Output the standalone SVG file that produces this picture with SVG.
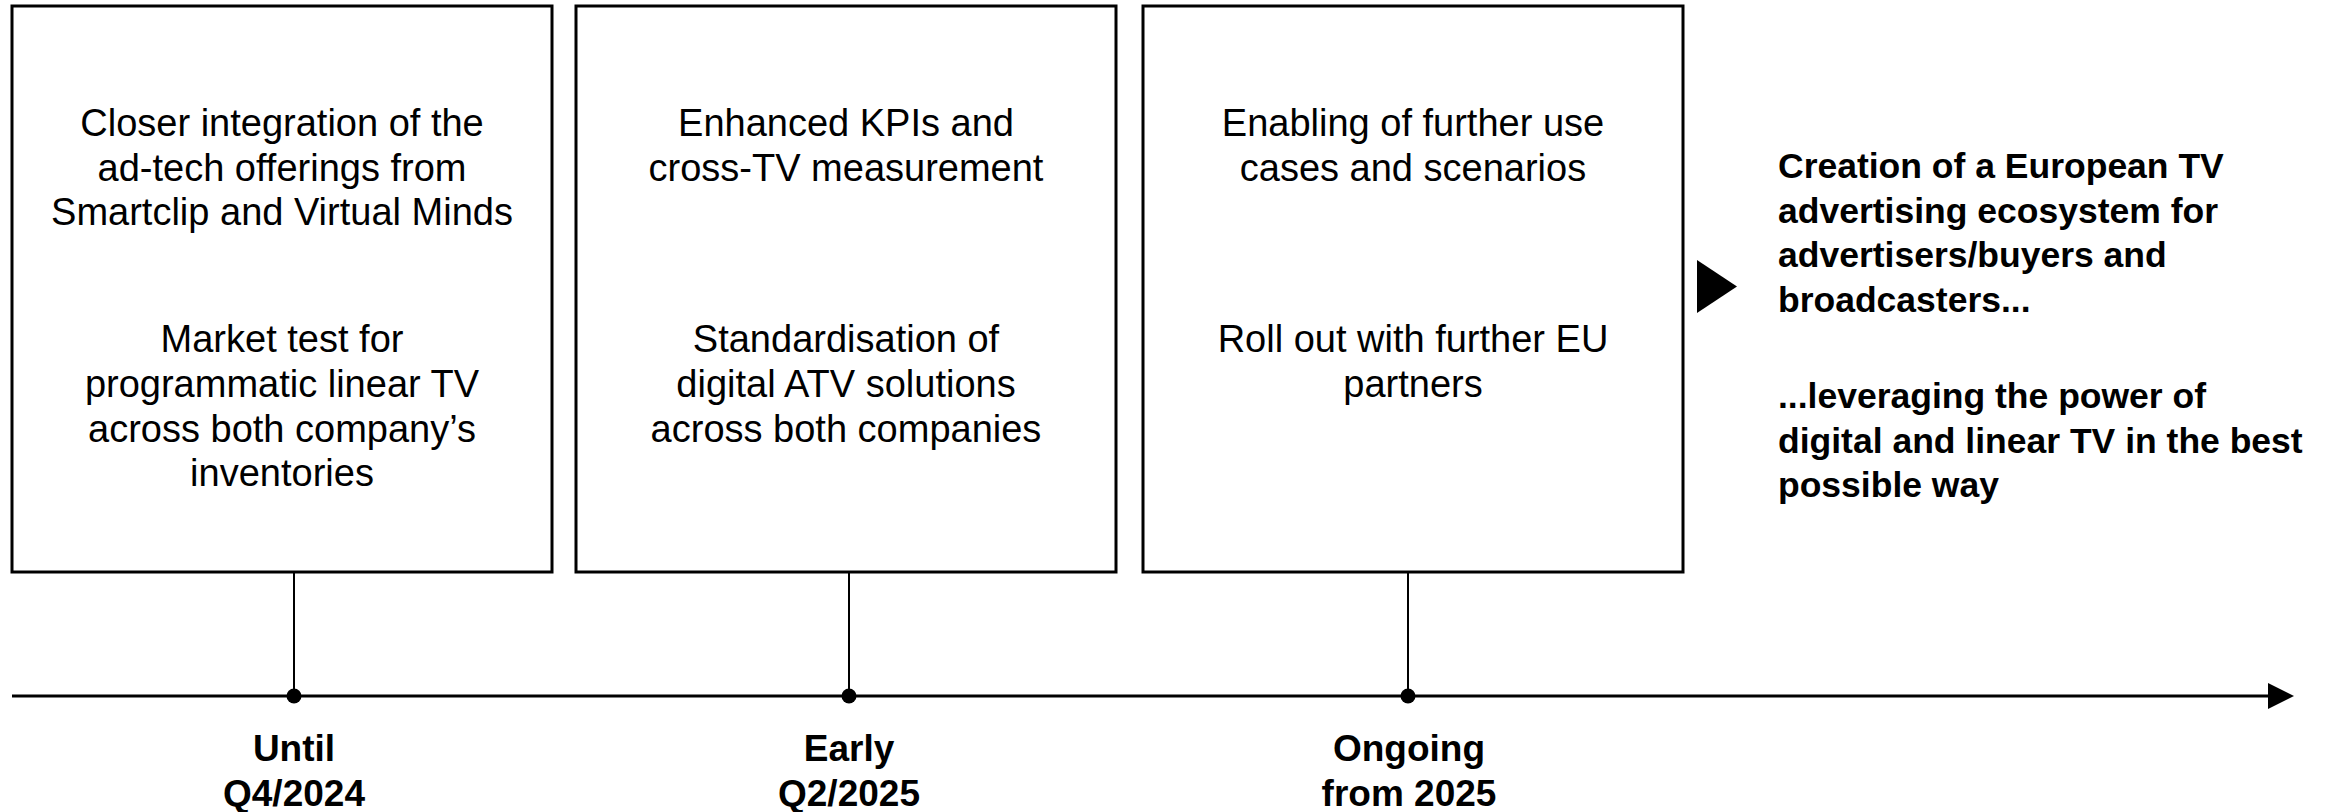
<svg xmlns="http://www.w3.org/2000/svg" width="2336" height="812" viewBox="0 0 2336 812">
<defs>
<style>
.box{fill:#fff;stroke:#000;stroke-width:3}
.body{font-family:"Liberation Sans",Arial,sans-serif;font-size:38px;fill:#000;text-anchor:middle}
.lbl{font-family:"Liberation Sans",Arial,sans-serif;font-size:37px;font-weight:bold;fill:#000;text-anchor:middle}
.goal{font-family:"Liberation Sans",Arial,sans-serif;font-size:35.5px;font-weight:bold;fill:#000}
.conn{stroke:#000;stroke-width:2;fill:none}
.axis{stroke:#000;stroke-width:3;fill:none}
</style>
<marker id="arrow" markerUnits="userSpaceOnUse" markerWidth="26" markerHeight="26" refX="0" refY="13" orient="auto" viewBox="0 0 26 26">
<path d="M0,0 L26,13 L0,26 Z" fill="#000"/>
</marker>
</defs>
<rect width="2336" height="812" fill="#fff"/>

<g id="connectors">
<line class="axis" x1="12" y1="696" x2="2268" y2="696" marker-end="url(#arrow)"/>
<line class="conn" x1="294" y1="572" x2="294" y2="696"/>
<line class="conn" x1="849" y1="572" x2="849" y2="696"/>
<line class="conn" x1="1408" y1="572" x2="1408" y2="696"/>
<circle cx="294" cy="696" r="7.5" fill="#000"/>
<circle cx="849" cy="696" r="7.5" fill="#000"/>
<circle cx="1408" cy="696" r="7.5" fill="#000"/>
</g>

<g id="box1">
<rect class="box" x="12" y="6" width="540" height="566"/>
<text class="body" x="282" y="136">Closer integration of the</text>
<text class="body" x="282" y="180.5">ad-tech offerings from</text>
<text class="body" x="282" y="225">Smartclip and Virtual Minds</text>
<text class="body" x="282" y="352">Market test for</text>
<text class="body" x="282" y="397">programmatic linear TV</text>
<text class="body" x="282" y="442">across both company’s</text>
<text class="body" x="282" y="486">inventories</text>
</g>

<g id="box2">
<rect class="box" x="576" y="6" width="540" height="566"/>
<text class="body" x="846" y="136">Enhanced KPIs and</text>
<text class="body" x="846" y="180.5">cross-TV measurement</text>
<text class="body" x="846" y="352">Standardisation of</text>
<text class="body" x="846" y="397">digital ATV solutions</text>
<text class="body" x="846" y="442">across both companies</text>
</g>

<g id="box3">
<rect class="box" x="1143" y="6" width="540" height="566"/>
<text class="body" x="1413" y="136">Enabling of further use</text>
<text class="body" x="1413" y="180.5">cases and scenarios</text>
<text class="body" x="1413" y="352">Roll out with further EU</text>
<text class="body" x="1413" y="397">partners</text>
</g>

<g id="goal">
<path d="M1697,260 L1737,286.5 L1697,313 Z" fill="#000"/>
<text class="goal" x="1778" y="178">Creation of a European TV</text>
<text class="goal" x="1778" y="222.5">advertising ecosystem for</text>
<text class="goal" x="1778" y="267">advertisers/buyers and</text>
<text class="goal" x="1778" y="312">broadcasters...</text>
<text class="goal" x="1778" y="408">...leveraging the power of</text>
<text class="goal" x="1778" y="452.5">digital and linear TV in the best</text>
<text class="goal" x="1778" y="497">possible way</text>
</g>

<g id="label1">
<text class="lbl" x="294" y="761">Until</text>
<text class="lbl" x="294" y="806">Q4/2024</text>
</g>
<g id="label2">
<text class="lbl" x="849" y="761">Early</text>
<text class="lbl" x="849" y="806">Q2/2025</text>
</g>
<g id="label3">
<text class="lbl" x="1409" y="761">Ongoing</text>
<text class="lbl" x="1409" y="806">from 2025</text>
</g>
</svg>
